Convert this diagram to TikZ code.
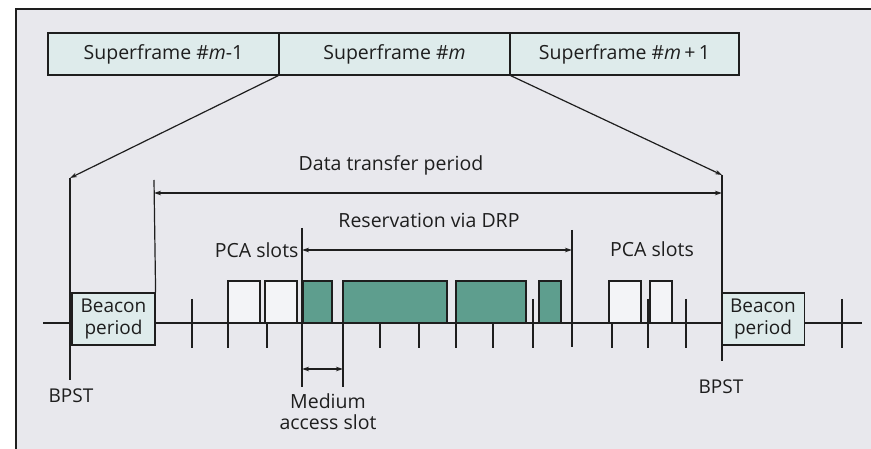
\documentclass[tikz,border=0pt]{standalone}
\usepackage{fontspec}
\setmainfont{Open Sans}
\usetikzlibrary{arrows.meta,positioning}
\definecolor{frame}{RGB}{232,232,237}
\definecolor{sframe}{RGB}{222,235,235}
\definecolor{drp}{RGB}{94,158,142}
\definecolor{pca}{RGB}{243,244,247}
\definecolor{ink}{RGB}{30,30,30}

\begin{document}
\begin{tikzpicture}[
  x=1pt, y=-1pt,
  every node/.style={font=\fontsize{19.5}{21}\selectfont, text=ink},
  sfbox/.style={draw=ink, line width=1.2pt, fill=sframe, minimum width=231pt, minimum height=42pt, inner sep=0pt},
  beacon/.style={draw=ink, line width=1.2pt, fill=sframe, minimum width=83pt, minimum height=52pt, inner sep=0pt, align=center, font=\fontsize{19}{22}\selectfont},
  pcaslot/.style={draw=ink, line width=1.2pt, fill=pca},
  drpslot/.style={draw=ink, line width=1.2pt, fill=drp},
  line/.style={draw=ink, line width=1.2pt},
  tick/.style={draw=ink, line width=1.2pt},
  dim/.style={draw=ink, line width=1.2pt, {Stealth[length=7pt,width=4.5pt]}-{Stealth[length=7pt,width=4.5pt]}},
  >={Stealth[length=7pt,width=4.5pt]}
]
\useasboundingbox (0,0) rectangle (871,449);
\fill[frame] (16,9) rectangle (871,449);
\draw[line] (16,449) -- (16,9) -- (871,9);

% superframes
\node[sfbox] (sfprev) at (163.5,54) {Superframe \#\textit{m}-1};
\node[sfbox] (sfcur) at (394.5,54) {Superframe \#\textit{m}};
\node[sfbox, minimum width=229pt] (sfnext) at (624.5,54) {Superframe \#\textit{m}\,+\,1};

% time axis
\draw[line] (43,323) -- (862,323);
\foreach \x in {228,267,380,419,456,493,612}
  \draw[tick] (\x,323) -- (\x,348);
\foreach \x in {192,533,648,686,842}
  \draw[tick] (\x,299) -- (\x,348);

% slots
\draw[pcaslot] (228,281) rectangle (260,323);
\draw[pcaslot] (265,281) rectangle (297,323);
\draw[pcaslot] (609,281) rectangle (641,323);
\draw[pcaslot] (650,281) rectangle (672,323);
\draw[drpslot] (303,281) rectangle (332,323);
\draw[drpslot] (343,281) rectangle (447,323);
\draw[drpslot] (456,281) rectangle (526,323);
\draw[drpslot] (539,281) rectangle (561,323);

% beacon periods
\node[beacon] (beaconL) at (113.5,319) {Beacon\\period};
\node[beacon] (beaconR) at (763,319) {Beacon\\period};

% BPST markers
\coordinate (bpstL) at (70,178);
\coordinate (bpstR) at (722,175);
\draw[line] (bpstL) -- (70,380);
\draw[line] (bpstR) -- (722,361);
\node[font=\fontsize{19}{21}\selectfont] (bpstLtxt) at (71,396) {BPST};
\node[font=\fontsize{19}{21}\selectfont] (bpstRtxt) at (721,387) {BPST};
\draw[line,->] (sfcur.south west) -- (bpstL);
\draw[line,->] (sfcur.south east) -- (bpstR);

% data transfer period
\coordinate (dtpL) at (154,193);
\coordinate (dtpR) at (722,193);
\draw[line] (154,180) -- (beaconL.north east);
\draw[dim] (dtpL) -- (dtpR);
\node (dtp) at (391,165) {Data transfer period};

% reservation via DRP
\coordinate (drpL) at (302,250);
\coordinate (drpR) at (572,250);
\draw[line] (302,228) -- (302,387);
\draw[line] (572,230) -- (572,347);
\draw[dim] (drpL) -- (drpR);
\node (drptxt) at (429,220) {Reservation via DRP};
\node[left=0pt of drpL] (pcaL) {PCA slots};
\node (pcaR) at (652,249) {PCA slots};

% medium access slot
\coordinate (masL) at (302,369);
\coordinate (masR) at (343,369);
\draw[line] (343,323) -- (343,387);
\draw[dim] (masL) -- (masR);
\node[align=center, font=\fontsize{19.5}{21}\selectfont] (mas) at (328,412) {Medium\\access slot};
\end{tikzpicture}
\end{document}
